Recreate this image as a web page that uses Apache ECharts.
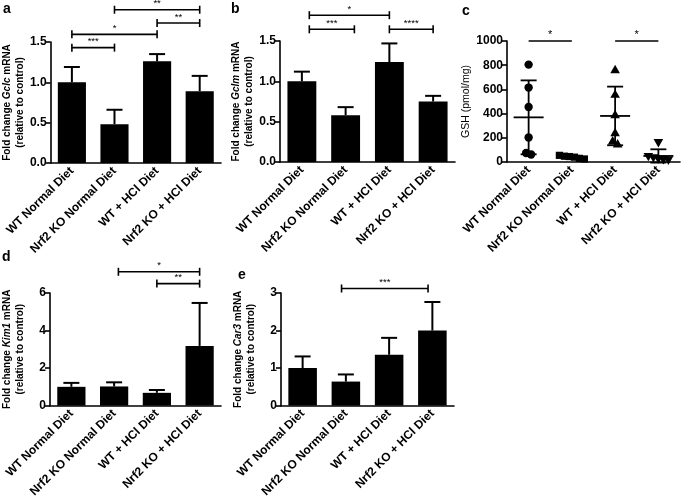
<!DOCTYPE html>
<html><head><meta charset="utf-8">
<script src="https://cdn.jsdelivr.net/npm/echarts@6/dist/echarts.min.js"></script>
<style>html,body{margin:0;padding:0;background:#fff}#c{width:685px;height:500px}</style>
</head><body><div id="c"></div>
<script>
// ---------- data ----------
const categories = ['WT Normal Diet', 'Nrf2 KO Normal Diet', 'WT + HCl Diet', 'Nrf2 KO + HCl Diet'];

const gclcMean = [1.00, 0.48, 1.26, 0.89];
const gclcSD   = [0.19, 0.18, 0.09, 0.19];
const gclcTicks = [0, 0.5, 1.0, 1.5];
const gclcSig = [[0, 1, 1.43, '***'], [0, 2, 1.595, '*'], [2, 3, 1.735, '**'], [1, 3, 1.90, '**']];

const gclmMean = [1.00, 0.58, 1.24, 0.75];
const gclmSD   = [0.12, 0.10, 0.23, 0.07];
const gclmTicks = [0, 0.5, 1.0, 1.5];
const gclmSig = [[0.17, 1.2, 1.645, '***'], [0.17, 2, 1.82, '*'], [2, 3, 1.645, '****']];

const gshWTNormal = [805, 615, 455, 202, 75, 62];
const gshKONormal = [55, 48, 45, 40, 30, 25];
const gshWTHCl    = [764, 560, 392, 243, 175, 150];
const gshKOHCl    = [160, 45, 35, 25, 20, 15];
const gshTicks = [0, 200, 400, 600, 800, 1000];
const gshSig = [[0, 1, 1000, '*'], [2, 3, 1000, '*']];

const kim1Mean = [1.00, 1.02, 0.68, 3.18];
const kim1SD   = [0.21, 0.22, 0.15, 2.29];
const kim1Ticks = [0, 2, 4, 6];
const kim1Sig = [[1.1, 3, 7.13, '*'], [2, 3, 6.5, '**']];

const car3Mean = [1.00, 0.64, 1.355, 2.00];
const car3SD   = [0.31, 0.19, 0.45, 0.76];
const car3Ticks = [0, 1, 2, 3];
const car3Sig = [[0.9, 2.9, 3.12, '***']];

// ---------- chart ----------
const FONT = 'Liberation Sans, Arial, sans-serif';
const grids = [
  {left: 48,  top: 42,  width: 173, height: 121},
  {left: 280, top: 41,  width: 175, height: 121},
  {left: 507, top: 41,  width: 173, height: 121},
  {left: 48,  top: 293, width: 173, height: 121},
  {left: 281, top: 293, width: 173, height: 122}
];

const xAxes = [], yAxes = [], series = [];

function xAxisFor(gi) {
  return {
    gridIndex: gi, type: 'category', data: categories,
    axisLine: {lineStyle: {color: '#000', width: 1.6}},
    axisTick: {alignWithLabel: true, length: 4, lineStyle: {color: '#000', width: 1.6}},
    axisLabel: {rotate: 45, interval: 0, fontSize: 12, fontWeight: 'bold', color: '#000', margin: 6, fontFamily: FONT},
    splitLine: {show: false}
  };
}
function yAxisFor(gi, ticks, name, nameStyle, nameGap, decimals) {
  return {
    gridIndex: gi, type: 'value',
    min: ticks[0], max: ticks[ticks.length - 1], interval: ticks[1] - ticks[0],
    axisLine: {show: true, lineStyle: {color: '#000', width: 1.6}},
    axisTick: {show: true, length: 5, lineStyle: {color: '#000', width: 1.6}},
    splitLine: {show: false},
    axisLabel: {fontSize: 12, fontWeight: 'bold', color: '#000', margin: 4, fontFamily: FONT,
      formatter: v => v.toFixed(decimals)},
    name: name, nameLocation: 'middle', nameGap: nameGap, nameRotate: 90,
    nameTextStyle: nameStyle
  };
}
function foldName(gene) {
  return '{b|Fold change }{i|' + gene + '}{b| mRNA}\n{b|(relative to control)}';
}
const foldStyle = {
  fontFamily: FONT, color: '#000', lineHeight: 12.5,
  rich: {
    b: {fontSize: 10, fontWeight: 'bold', fontFamily: FONT, color: '#000', lineHeight: 12.5},
    i: {fontSize: 10, fontWeight: 'bold', fontStyle: 'italic', fontFamily: FONT, color: '#000', lineHeight: 12.5}
  }
};

function sigSeries(gi, sig, withEnds, starSize) {
  return {
    type: 'custom', xAxisIndex: gi, yAxisIndex: gi, clip: false, z: 5,
    data: sig.map(s => [Math.round(s[0]), s[2]]),
    encode: {x: 0, y: 1},
    renderItem: function (params, api) {
      const s = sig[params.dataIndex];
      const p0 = api.coord([0, s[2]]);
      const p1 = api.coord([1, s[2]]);
      const bw = p1[0] - p0[0];
      const x1 = p0[0] + s[0] * bw, x2 = p0[0] + s[1] * bw, y = p0[1];
      const st = {stroke: '#000', lineWidth: 1.6};
      const ch = [{type: 'line', shape: {x1: x1, y1: y, x2: x2, y2: y}, style: st}];
      if (withEnds) {
        ch.push({type: 'line', shape: {x1: x1, y1: y - 4, x2: x1, y2: y + 4}, style: st});
        ch.push({type: 'line', shape: {x1: x2, y1: y - 4, x2: x2, y2: y + 4}, style: st});
      }
      ch.push({type: 'text', x: (x1 + x2) / 2, y: y - 1,
        style: {text: s[3], align: 'center', verticalAlign: 'bottom', fontSize: starSize, fontFamily: FONT, fill: '#000'}});
      return {type: 'group', children: ch};
    }
  };
}

function barPanel(gi, mean, sd, ticks, sig, gene) {
  xAxes.push(xAxisFor(gi));
  yAxes.push(yAxisFor(gi, ticks, foldName(gene), foldStyle, 24, ticks[1] < 1 ? 1 : 0));
  series.push({
    type: 'bar', xAxisIndex: gi, yAxisIndex: gi, data: mean, barWidth: '66%',
    itemStyle: {color: '#000'}, z: 2
  });
  series.push({
    type: 'custom', xAxisIndex: gi, yAxisIndex: gi, z: 3, clip: false,
    data: mean.map((m, i) => [i, m, m + sd[i]]),
    encode: {x: 0, y: 1},
    renderItem: function (params, api) {
      const i = api.value(0);
      const a = api.coord([i, api.value(1)]);
      const b = api.coord([i, api.value(2)]);
      const st = {stroke: '#000', lineWidth: 2};
      return {type: 'group', children: [
        {type: 'line', shape: {x1: a[0], y1: a[1], x2: b[0], y2: b[1]}, style: st},
        {type: 'line', shape: {x1: b[0] - 8, y1: b[1], x2: b[0] + 8, y2: b[1]}, style: st}
      ]};
    }
  });
  series.push(sigSeries(gi, sig, true, 9.5));
}

barPanel(0, gclcMean, gclcSD, gclcTicks, gclcSig, 'Gclc');
barPanel(1, gclmMean, gclmSD, gclmTicks, gclmSig, 'Gclm');

// panel c: scatter dot plot
xAxes.push(xAxisFor(2));
yAxes.push(yAxisFor(2, gshTicks, 'GSH (pmol/mg)',
  {fontSize: 10.5, fontFamily: FONT, color: '#000'}, 35, 0));
const gshGroups = [gshWTNormal, gshKONormal, gshWTHCl, gshKOHCl];
const gshShapes = ['circle', 'square', 'triangle', 'triangleDown'];
function markerEl(shape, x, y) {
  const st = {fill: '#000'};
  if (shape === 'circle') return {type: 'circle', shape: {cx: x, cy: y, r: 4.2}, style: st};
  if (shape === 'square') return {type: 'rect', shape: {x: x - 3.6, y: y - 3.6, width: 7.2, height: 7.2}, style: st};
  if (shape === 'triangle') return {type: 'polygon', shape: {points: [[x, y - 4.8], [x - 4.8, y + 3.6], [x + 4.8, y + 3.6]]}, style: st};
  return {type: 'polygon', shape: {points: [[x, y + 4.8], [x - 4.8, y - 3.6], [x + 4.8, y - 3.6]]}, style: st};
}
series.push({
  type: 'custom', xAxisIndex: 2, yAxisIndex: 2, clip: false, z: 3,
  data: gshGroups.map((g, i) => [i, 0]),
  encode: {x: 0, y: 1},
  renderItem: function (params, api) {
    const gi = params.dataIndex;
    const vals = gshGroups[gi];
    const cx = api.coord([gi, 0])[0];
    const pts = vals.map(v => ({v: v, y: api.coord([gi, v])[1]})).sort((a, b) => a.y - b.y);
    // cluster points closer than marker size, spread them symmetrically
    const clusters = [];
    pts.forEach(p => {
      const last = clusters[clusters.length - 1];
      if (last && p.y - last[last.length - 1].y < 7) last.push(p); else clusters.push([p]);
    });
    const ch = [];
    const d = 5;
    clusters.forEach(c => {
      c.forEach((p, k) => ch.push(markerEl(gshShapes[gi], cx + (k - (c.length - 1) / 2) * d, p.y)));
    });
    const n = vals.length;
    const mean = vals.reduce((s, v) => s + v, 0) / n;
    const sd = Math.sqrt(vals.reduce((s, v) => s + (v - mean) * (v - mean), 0) / (n - 1));
    const ym = api.coord([gi, mean])[1];
    const yt = api.coord([gi, mean + sd])[1];
    const yb = api.coord([gi, mean - sd])[1];
    const st = {stroke: '#000', lineWidth: 1.8};
    ch.push({type: 'line', shape: {x1: cx - 15, y1: ym, x2: cx + 15, y2: ym}, style: st});
    ch.push({type: 'line', shape: {x1: cx, y1: yt, x2: cx, y2: yb}, style: st});
    ch.push({type: 'line', shape: {x1: cx - 8, y1: yt, x2: cx + 8, y2: yt}, style: st});
    ch.push({type: 'line', shape: {x1: cx - 8, y1: yb, x2: cx + 8, y2: yb}, style: st});
    return {type: 'group', children: ch};
  }
});
series.push(sigSeries(2, gshSig, false, 11));

barPanel(3, kim1Mean, kim1SD, kim1Ticks, kim1Sig, 'Kim1');
barPanel(4, car3Mean, car3SD, car3Ticks, car3Sig, 'Car3');

const panelLabels = [['a', 3, 2], ['b', 231, 2], ['c', 462, 4], ['d', 2, 250], ['e', 238, 268]];

const chart = echarts.init(document.getElementById('c'), null, {renderer: 'canvas'});
chart.setOption({
  animation: false,
  backgroundColor: '#fff',
  grid: grids,
  xAxis: xAxes,
  yAxis: yAxes,
  series: series,
  graphic: panelLabels.map(p => ({
    type: 'text', left: p[1], top: p[2],
    style: {text: p[0], fontSize: 14, fontWeight: 'bold', fontFamily: FONT, fill: '#000'}
  }))
});
</script>
</body></html>
